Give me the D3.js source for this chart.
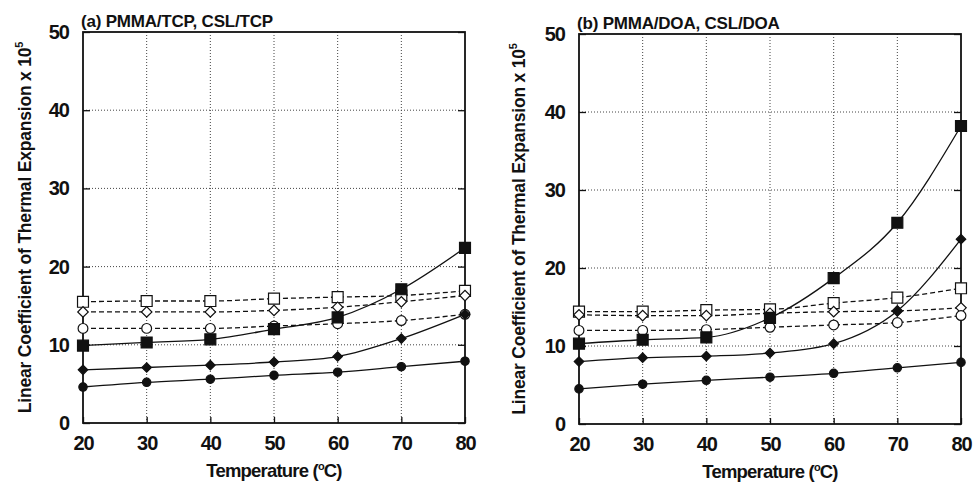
<!DOCTYPE html>
<html>
<head>
<meta charset="utf-8">
<script src="https://cdn.jsdelivr.net/npm/d3@7"></script>
<style>
  body { margin: 0; background: #fff; }
  text { font-family: "Liberation Sans", Arial, sans-serif; font-weight: bold; fill: #111; }
</style>
</head>
<body>
<div class="chart"></div>
<script>
const temps = [20, 30, 40, 50, 60, 70, 80];
const yTicks = [0, 10, 20, 30, 40, 50];

// panel (a) PMMA/TCP, CSL/TCP
const aFilledSquare = [9.9, 10.3, 10.7, 12.0, 13.5, 17.1, 22.4];
const aOpenSquare   = [15.5, 15.6, 15.6, 15.9, 16.1, 16.3, 16.9];
const aOpenDiamond  = [14.2, 14.2, 14.2, 14.4, 14.8, 15.5, 16.3];
const aOpenCircle   = [12.1, 12.1, 12.1, 12.4, 12.7, 13.1, 13.9];
const aFilledDiam   = [6.8, 7.1, 7.4, 7.8, 8.5, 10.8, 13.9];
const aFilledCircle = [4.6, 5.2, 5.6, 6.1, 6.5, 7.2, 7.9];

// panel (b) PMMA/DOA, CSL/DOA
const bFilledSquare = [10.3, 10.8, 11.1, 13.6, 18.7, 25.8, 38.2];
const bOpenSquare   = [14.4, 14.4, 14.6, 14.7, 15.5, 16.2, 17.4];
const bOpenDiamond  = [14.0, 13.9, 13.9, 14.2, 14.4, 14.5, 14.9];
const bOpenCircle   = [12.0, 12.0, 12.1, 12.4, 12.7, 13.0, 13.9];
const bFilledDiam   = [8.0, 8.5, 8.7, 9.1, 10.3, 14.5, 23.7];
const bFilledCircle = [4.5, 5.1, 5.6, 6.0, 6.5, 7.2, 7.9];

const svg = d3.select('.chart').append('svg')
    .attr('width', 973)
    .attr('height', 483);

function panel(opts) {
    const x = d3.scaleLinear().domain([20, 80]).range([opts.left, opts.right]);
    const y = d3.scaleLinear().domain([0, 50]).range([opts.bottom, opts.top]);
    const g = svg.append('g');

    // dotted grid
    g.selectAll('.gx').data(temps.slice(1, -1)).enter().append('line')
        .attr('x1', d => x(d)).attr('x2', d => x(d))
        .attr('y1', opts.top).attr('y2', opts.bottom)
        .attr('stroke', '#444').attr('stroke-width', 1).attr('stroke-dasharray', '1,2');
    g.selectAll('.gy').data(yTicks.slice(1, -1)).enter().append('line')
        .attr('x1', opts.left).attr('x2', opts.right)
        .attr('y1', d => y(d)).attr('y2', d => y(d))
        .attr('stroke', '#444').attr('stroke-width', 1).attr('stroke-dasharray', '1,2');

    // axes (ticks inward)
    g.append('g').attr('transform', `translate(0,${opts.bottom})`)
        .call(d3.axisBottom(x).tickValues(temps).tickSize(-6).tickPadding(13))
        .call(a => a.select('.domain').remove())
        .call(a => a.selectAll('text').attr('font-size', 20).attr('letter-spacing', -1));
    g.append('g').attr('transform', `translate(${opts.left},0)`)
        .call(d3.axisLeft(y).tickValues(yTicks).tickSize(-7).tickPadding(14))
        .call(a => a.select('.domain').remove())
        .call(a => a.selectAll('text').attr('font-size', 20).attr('letter-spacing', -1));
    g.append('g').attr('transform', `translate(${opts.right},0)`)
        .call(d3.axisRight(y).tickValues(yTicks).tickSize(-7).tickFormat(''))
        .call(a => a.select('.domain').remove());
    g.selectAll('.tick line').attr('stroke', '#111').attr('stroke-width', 1.3);

    g.append('rect')
        .attr('x', opts.left).attr('y', opts.top)
        .attr('width', opts.right - opts.left).attr('height', opts.bottom - opts.top)
        .attr('fill', 'none').attr('stroke', '#111').attr('stroke-width', 1.8);

    const line = d3.line()
        .x((d, i) => x(temps[i]))
        .y(d => y(d))
        .curve(d3.curveMonotoneX);

    opts.series.forEach(s => {
        g.append('path')
            .attr('d', line(s.values))
            .attr('fill', 'none')
            .attr('stroke', '#111')
            .attr('stroke-width', 1.3)
            .attr('stroke-dasharray', s.dashed ? '5,3' : null);
    });

    const sym = {
        square: d3.symbol().type(d3.symbolSquare),
        diamond: d3.symbol().type(d3.symbolSquare),
        circle: d3.symbol().type(d3.symbolCircle)
    };
    opts.series.forEach(s => {
        g.selectAll(null).data(s.values).enter().append('path')
            .attr('transform', (d, i) => `translate(${x(temps[i])},${y(d)})` + (s.shape === 'diamond' ? ' rotate(45)' : ''))
            .attr('d', sym[s.shape].size(s.size))
            .attr('fill', s.filled ? '#111' : '#fff')
            .attr('stroke', '#111')
            .attr('stroke-width', 1.2);
    });

    svg.append('text')
        .attr('x', opts.left - 2).attr('y', opts.top - 5)
        .attr('font-size', 17)
        .attr('letter-spacing', -0.2)
        .text(opts.title);

    svg.append('text')
        .attr('transform', `translate(${opts.ylabX},${(opts.top + opts.bottom) / 2}) rotate(-90)`)
        .attr('text-anchor', 'middle')
        .attr('font-size', 17.5)
        .attr('letter-spacing', -0.2)
        .call(t => {
            t.append('tspan').text('Linear Coefficient of Thermal Expansion x 10');
            t.append('tspan').attr('dy', -8).attr('font-size', 11).text('5');
        });

    svg.append('text')
        .attr('x', (opts.left + opts.right) / 2).attr('y', opts.bottom + 54)
        .attr('text-anchor', 'middle')
        .attr('font-size', 18.5)
        .attr('letter-spacing', -0.8)
        .call(t => {
            t.append('tspan').text('Temperature (');
            t.append('tspan').attr('dy', -7).attr('font-size', 11).text('o');
            t.append('tspan').attr('dy', 7).text('C)');
        });
}

panel({
    left: 83, right: 465, top: 32, bottom: 423, ylabX: 31,
    title: '(a) PMMA/TCP, CSL/TCP',
    series: [
        { values: aOpenSquare, shape: 'square', filled: false, dashed: true, size: 120 },
        { values: aOpenDiamond, shape: 'diamond', filled: false, dashed: true, size: 55 },
        { values: aOpenCircle, shape: 'circle', filled: false, dashed: true, size: 75 },
        { values: aFilledSquare, shape: 'square', filled: true, dashed: false, size: 120 },
        { values: aFilledDiam, shape: 'diamond', filled: true, dashed: false, size: 45 },
        { values: aFilledCircle, shape: 'circle', filled: true, dashed: false, size: 55 }
    ]
});

panel({
    left: 579, right: 961, top: 34, bottom: 424, ylabX: 525,
    title: '(b) PMMA/DOA, CSL/DOA',
    series: [
        { values: bOpenSquare, shape: 'square', filled: false, dashed: true, size: 120 },
        { values: bOpenDiamond, shape: 'diamond', filled: false, dashed: true, size: 55 },
        { values: bOpenCircle, shape: 'circle', filled: false, dashed: true, size: 75 },
        { values: bFilledSquare, shape: 'square', filled: true, dashed: false, size: 120 },
        { values: bFilledDiam, shape: 'diamond', filled: true, dashed: false, size: 45 },
        { values: bFilledCircle, shape: 'circle', filled: true, dashed: false, size: 55 }
    ]
});
</script>
</body>
</html>
